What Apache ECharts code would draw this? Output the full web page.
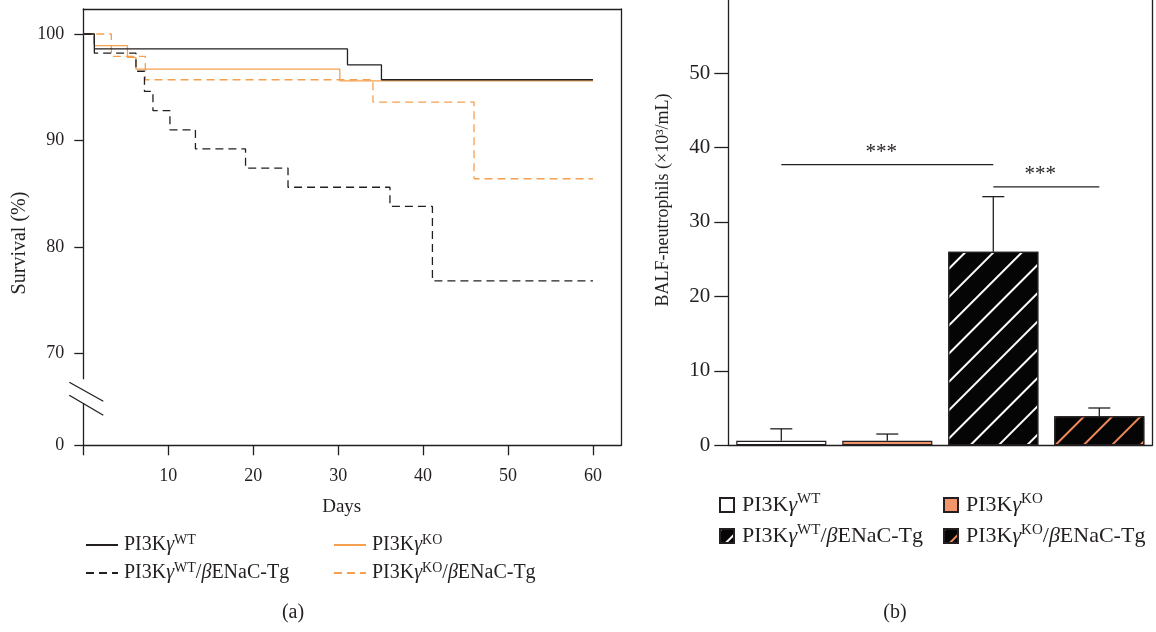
<!DOCTYPE html>
<html><head><meta charset="utf-8">
<script src="https://cdn.jsdelivr.net/npm/echarts@6/dist/echarts.min.js"></script>
<style>html,body{margin:0;padding:0;background:#fff}#c{width:1156px;height:632px}</style>
</head><body><div id="c"></div>
<script>
// ---------- data: panel (a) survival ----------
const dayTicks = [0, 10, 20, 30, 40, 50, 60];
const survTicks = [70, 80, 90, 100];
const survBreakLabel = '0';
const wtDays   = [0, 1.3, 31.1, 35.1, 60];
const wtSurv   = [100, 98.6, 97.1, 95.7, 95.7];
const koDays   = [0, 1.3, 5.2, 6.2, 30.2, 60];
const koSurv   = [100, 98.9, 97.8, 96.7, 95.6, 95.6];
const wtTgDays = [0, 1.3, 6.2, 7.2, 8.2, 10.2, 13.2, 19.1, 24.1, 36.1, 41.1, 60];
const wtTgSurv = [100, 98.2, 96.5, 94.6, 92.8, 91.0, 89.2, 87.4, 85.6, 83.8, 76.8, 76.8];
const koTgDays = [0, 3.3, 7.3, 34.1, 46.0, 60];
const koTgSurv = [100, 97.9, 95.7, 93.6, 86.4, 86.4];
// ---------- data: panel (b) BALF neutrophils ----------
const groups = ['WT', 'KO', 'WT/βENaC-Tg', 'KO/βENaC-Tg'];
const neutroMean = [0.6, 0.6, 26.0, 3.9];
const neutroErrTop = [2.2, 1.5, 33.4, 5.0];
const neutroTicks = [0, 10, 20, 30, 40, 50];
const sigPairs = [[0, 2, 37.7], [2, 3, 34.7]];
const sigText = '***';

const FF = '"Liberation Serif", "DejaVu Serif", serif';
const INK = '#231f20';
const ORANGE = '#F4A04E';
const SALMON = '#F3956A';

const survMin = 61.35, survMax = 102.35, dayMax = 63.3;

function zip(a, b) { return a.map((v, i) => [v, b[i]]); }
function legendLabel(name) {
  const g = name.slice(2);
  const parts = g.split('/');
  let s = '{g|}{t|PI3K}{i|γ}{s|' + parts[0] + '}';
  if (parts[1]) s += '{t|/}{i|β}{t|' + parts[1].replace('β', '') + '}';
  return s;
}
function legendText(fs, sfs, lh, gap) {
  return {
    fontFamily: FF, color: INK, fontSize: fs,
    rich: {
      g: { width: gap },
      t: { fontFamily: FF, fontSize: fs, color: INK, lineHeight: lh },
      i: { fontFamily: FF, fontSize: fs, color: INK, lineHeight: lh, fontStyle: 'italic' },
      s: { fontFamily: FF, fontSize: sfs, color: INK, lineHeight: sfs, verticalAlign: 'top' }
    }
  };
}
const axisLineStyle = { color: INK, width: 1.3 };

const chart = echarts.init(document.getElementById('c'), null, { renderer: 'canvas' });

const lineDefs = [
  { name: 'a-KO/βENaC-Tg', d: koTgDays, s: koTgSurv, color: ORANGE, type: [8, 5] },
  { name: 'a-KO', d: koDays, s: koSurv, color: ORANGE, type: 'solid' },
  { name: 'a-WT/βENaC-Tg', d: wtTgDays, s: wtTgSurv, color: INK, type: [8, 5] },
  { name: 'a-WT', d: wtDays, s: wtSurv, color: INK, type: 'solid' }
];

const barColors = ['#ffffff', SALMON, '#050505', '#050505'];
const hatchColors = [null, null, '#ffffff', '#F0895A'];
function hatch(c, period) {
  return { symbol: 'rect', symbolSize: 1, dashArrayX: [1, 0], dashArrayY: [1.6, period - 1.6], rotation: -Math.PI / 4, color: c };
}

const series = [];
lineDefs.forEach(l => series.push({
  type: 'line', name: l.name, xAxisIndex: 0, yAxisIndex: 0, step: 'end', symbol: 'none',
  data: zip(l.d, l.s), lineStyle: { color: l.color, width: 1.3, type: l.type },
  itemStyle: { color: l.color }, silent: true
}));
series.push({
  type: 'custom', name: 'break', xAxisIndex: 0, yAxisIndex: 0, clip: false, z: 10, silent: true,
  data: [[0, survMin]],
  renderItem: (p, api) => {
    const b = api.coord([api.value(0), api.value(1)]);
    const x = b[0], y = b[1];
    const st = { stroke: INK, lineWidth: 1.3 };
    return { type: 'group', children: [
      { type: 'rect', shape: { x: x - 3, y: y - 66, width: 6, height: 24 }, style: { fill: '#fff' } },
      { type: 'line', shape: { x1: x - 14, y1: y - 63, x2: x + 20, y2: y - 44 }, style: st },
      { type: 'line', shape: { x1: x - 14, y1: y - 50, x2: x + 20, y2: y - 30 }, style: st }
    ] };
  }
});
groups.forEach((g, i) => series.push({
  type: 'bar', name: 'b-' + g, xAxisIndex: 1, yAxisIndex: 2, stack: 'n', barWidth: '85%',
  data: groups.map((_, j) => j === i ? neutroMean[i] : '-'),
  itemStyle: Object.assign({ color: barColors[i], borderColor: INK, borderWidth: 1.2 },
    hatchColors[i] ? { decal: hatch(hatchColors[i], 19) } : {}),
  silent: true
}));
series.push({
  type: 'custom', name: 'err', xAxisIndex: 1, yAxisIndex: 2, z: 5, silent: true,
  encode: { x: 0, y: [1, 2] },
  data: neutroMean.map((m, i) => [i, m, neutroErrTop[i]]),
  renderItem: (p, api) => {
    const a = api.coord([api.value(0), api.value(1)]);
    const b = api.coord([api.value(0), api.value(2)]);
    const st = { stroke: INK, lineWidth: 1.3 };
    return { type: 'group', children: [
      { type: 'line', shape: { x1: a[0], y1: a[1], x2: b[0], y2: b[1] }, style: st },
      { type: 'line', shape: { x1: b[0] - 11, y1: b[1], x2: b[0] + 11, y2: b[1] }, style: st }
    ] };
  }
});
series.push({
  type: 'custom', name: 'sig', xAxisIndex: 1, yAxisIndex: 2, z: 5, silent: true, clip: false,
  encode: { x: [0, 1], y: 2 },
  data: sigPairs,
  renderItem: (p, api) => {
    const a = api.coord([api.value(0), api.value(2)]);
    const b = api.coord([api.value(1), api.value(2)]);
    return { type: 'group', children: [
      { type: 'line', shape: { x1: a[0], y1: a[1], x2: b[0], y2: b[1] }, style: { stroke: INK, lineWidth: 1.3 } },
      { type: 'text', x: (a[0] + b[0]) / 2 - 6, y: a[1] - 12,
        style: { text: sigText, font: '21px ' + FF, fill: INK, align: 'center', verticalAlign: 'middle' } }
    ] };
  }
});

function legendItem(g, i) {
  const it = { name: 'b-' + g };
  if (hatchColors[i]) it.itemStyle = { decal: hatch(hatchColors[i], 12) };
  return it;
}

const option = {
  animation: false,
  backgroundColor: '#ffffff',
  grid: [
    { left: 83.3, top: 9, width: 537.7, height: 436.3, outerBoundsMode: 'none', containLabel: false },
    { left: 728.3, top: -1.3, width: 424, height: 446.5, outerBoundsMode: 'none', containLabel: false }
  ],
  xAxis: [
    { gridIndex: 0, type: 'value', min: 0, max: dayMax,
      axisLine: { show: true, onZero: false, lineStyle: axisLineStyle },
      axisTick: { show: true, length: 10, customValues: dayTicks, lineStyle: axisLineStyle },
      axisLabel: { customValues: dayTicks.filter(v => v > 0), margin: 22, fontFamily: FF, fontSize: 18, color: INK },
      splitLine: { show: false } },
    { gridIndex: 1, type: 'category', data: groups,
      axisLine: { show: true, onZero: false, lineStyle: axisLineStyle },
      axisTick: { show: false }, axisLabel: { show: false }, splitLine: { show: false } },
    { gridIndex: 0, type: 'value', position: 'top', min: 0, max: dayMax,
      axisLine: { show: true, onZero: false, lineStyle: axisLineStyle },
      axisTick: { show: false }, axisLabel: { show: false }, splitLine: { show: false } }
  ],
  yAxis: [
    { gridIndex: 0, type: 'value', min: survMin, max: survMax,
      axisLine: { show: true, onZero: false, lineStyle: axisLineStyle },
      axisTick: { show: true, length: 9, customValues: [survMin].concat(survTicks), lineStyle: axisLineStyle },
      axisLabel: { customValues: [survMin].concat(survTicks), formatter: v => v < survTicks[0] ? survBreakLabel : String(v),
        margin: 19, fontFamily: FF, fontSize: 18, color: INK },
      splitLine: { show: false } },
    { gridIndex: 0, type: 'value', position: 'right', min: survMin, max: survMax,
      axisLine: { show: true, onZero: false, lineStyle: axisLineStyle },
      axisTick: { show: false }, axisLabel: { show: false }, splitLine: { show: false } },
    { gridIndex: 1, type: 'value', min: 0, max: 60,
      axisLine: { show: true, onZero: false, lineStyle: axisLineStyle },
      axisTick: { show: true, length: 14, customValues: neutroTicks, lineStyle: axisLineStyle },
      axisLabel: { customValues: neutroTicks, margin: 18, fontFamily: FF, fontSize: 21, color: INK },
      splitLine: { show: false } },
    { gridIndex: 1, type: 'value', position: 'right', min: 0, max: 60,
      axisLine: { show: true, onZero: false, lineStyle: axisLineStyle },
      axisTick: { show: false }, axisLabel: { show: false }, splitLine: { show: false } }
  ],
  legend: [
    { orient: 'vertical', left: 80, top: 528, itemWidth: 32, itemHeight: 14, itemGap: 6, selectedMode: false,
      itemStyle: { opacity: 0 },
      data: ['a-WT', 'a-WT/βENaC-Tg'], formatter: legendLabel, textStyle: legendText(20, 14, 24, 1) },
    { orient: 'vertical', left: 328, top: 528, itemWidth: 32, itemHeight: 14, itemGap: 6, selectedMode: false,
      itemStyle: { opacity: 0 },
      data: ['a-KO', 'a-KO/βENaC-Tg'], formatter: legendLabel, textStyle: legendText(20, 14, 24, 1) },
    { orient: 'vertical', left: 714, top: 487, itemWidth: 14, itemHeight: 14, itemGap: 7, icon: 'rect', selectedMode: false,
      data: [legendItem(groups[0], 0), legendItem(groups[2], 2)], formatter: legendLabel, textStyle: legendText(22, 15, 26, 3) },
    { orient: 'vertical', left: 938, top: 487, itemWidth: 14, itemHeight: 14, itemGap: 7, icon: 'rect', selectedMode: false,
      data: [legendItem(groups[1], 1), legendItem(groups[3], 3)], formatter: legendLabel, textStyle: legendText(22, 15, 26, 3) }
  ],
  graphic: [
    { type: 'text', x: 20, y: 243, rotation: Math.PI / 2,
      style: { text: 'Survival (%)', font: '20px ' + FF, fill: INK, align: 'center', verticalAlign: 'middle' } },
    { type: 'text', x: 663, y: 200, rotation: Math.PI / 2,
      style: { text: 'BALF-neutrophils (×10³/mL)', font: '18px ' + FF, fill: INK, align: 'center', verticalAlign: 'middle' } },
    { type: 'text', x: 341.7, y: 507,
      style: { text: 'Days', font: '19px ' + FF, fill: INK, align: 'center', verticalAlign: 'middle' } },
    { type: 'text', x: 293, y: 613,
      style: { text: '(a)', font: '20px ' + FF, fill: INK, align: 'center', verticalAlign: 'middle' } },
    { type: 'text', x: 895, y: 613,
      style: { text: '(b)', font: '20px ' + FF, fill: INK, align: 'center', verticalAlign: 'middle' } }
  ],
  series: series
};
chart.setOption(option);
</script>
</body></html>
